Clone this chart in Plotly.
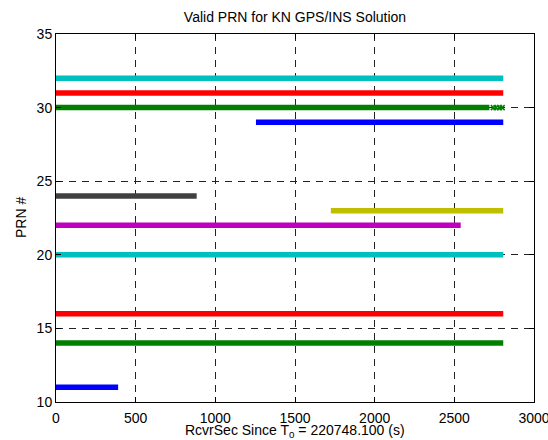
import plotly.graph_objects as go

# Valid PRN intervals (seconds since T0)
prns = [32, 31, 30, 29, 24, 23, 22, 20, 16, 14, 11]
starts = [0, 0, 0, 1255, 0, 1725, 0, 0, 0, 0, 0]
ends = [2807, 2807, 2720, 2807, 883, 2807, 2540, 2807, 2807, 2807, 390]
colors = ["#00BFBF", "#FF0000", "#008000", "#0000FF", "#404040", "#BFBF00",
          "#BF00BF", "#00BFBF", "#FF0000", "#008000", "#0000FF"]

# sparse valid epochs for PRN 30 near the end
gap_prn = 30
gap_x = [2745, 2762, 2783, 2800]

xticks = [0, 500, 1000, 1500, 2000, 2500, 3000]
yticks = [10, 15, 20, 25, 30, 35]

FS = 14
W, H = 548, 440
L, R, T, B = 56, 14, 34, 38
PW, PH = W - L - R, H - T - B

fig = go.Figure()
for p, s, e, c in zip(prns, starts, ends, colors):
    fig.add_trace(go.Scatter(
        x=[s, e], y=[p, p], mode="lines",
        line=dict(color=c, width=5.5), showlegend=False, hoverinfo="skip"))

fig.add_trace(go.Scatter(
    x=gap_x, y=[gap_prn] * len(gap_x), mode="markers",
    marker=dict(symbol="x-thin", size=5, color="#008000",
                line=dict(color="#008000", width=1.5)),
    showlegend=False, hoverinfo="skip"))

axis_common = dict(
    showline=True, linecolor="black", linewidth=1, mirror="ticks",
    ticks="inside", ticklen=5, tickcolor="black",
    showgrid=True, gridcolor="#222222", griddash="7px,6px", gridwidth=1,
    zeroline=False, tickfont=dict(size=FS, color="black"),
    automargin=False, ticklabeloverflow="allow",
)

fig.update_xaxes(range=[0, 3000], tickvals=xticks, ticklabelstandoff=3,
                 **axis_common)
fig.update_yaxes(range=[10, 35], tickvals=yticks, **axis_common)

fig.update_layout(
    width=W, height=H,
    margin=dict(l=L, r=R, t=T, b=B, autoexpand=False),
    paper_bgcolor="white", plot_bgcolor="white",
    font=dict(family="Liberation Sans, Arial, sans-serif", color="black"),
    title=dict(text="Valid PRN for KN GPS/INS Solution", x=0.5,
               xanchor="center", xref="paper", y=1 - 17 / H,
               yref="container", yanchor="middle",
               automargin=False, font=dict(size=FS, color="black")),
    annotations=[
        dict(text="RcvrSec Since T<sub>0</sub> = 220748.100 (s)",
             xref="paper", yref="paper", x=0.5, y=-29 / PH,
             xanchor="center", yanchor="middle", showarrow=False,
             font=dict(size=FS, color="black")),
        dict(text="PRN #", xref="paper", yref="paper",
             x=-(L - 21) / PW, y=0.5, xanchor="center", yanchor="middle",
             textangle=-90, showarrow=False,
             font=dict(size=FS, color="black")),
    ],
)

fig.write_html(
    "out.html",
    config={"displayModeBar": False},
    post_script="document.body.style.margin='0';"
                "document.body.style.overflow='hidden';",
)
